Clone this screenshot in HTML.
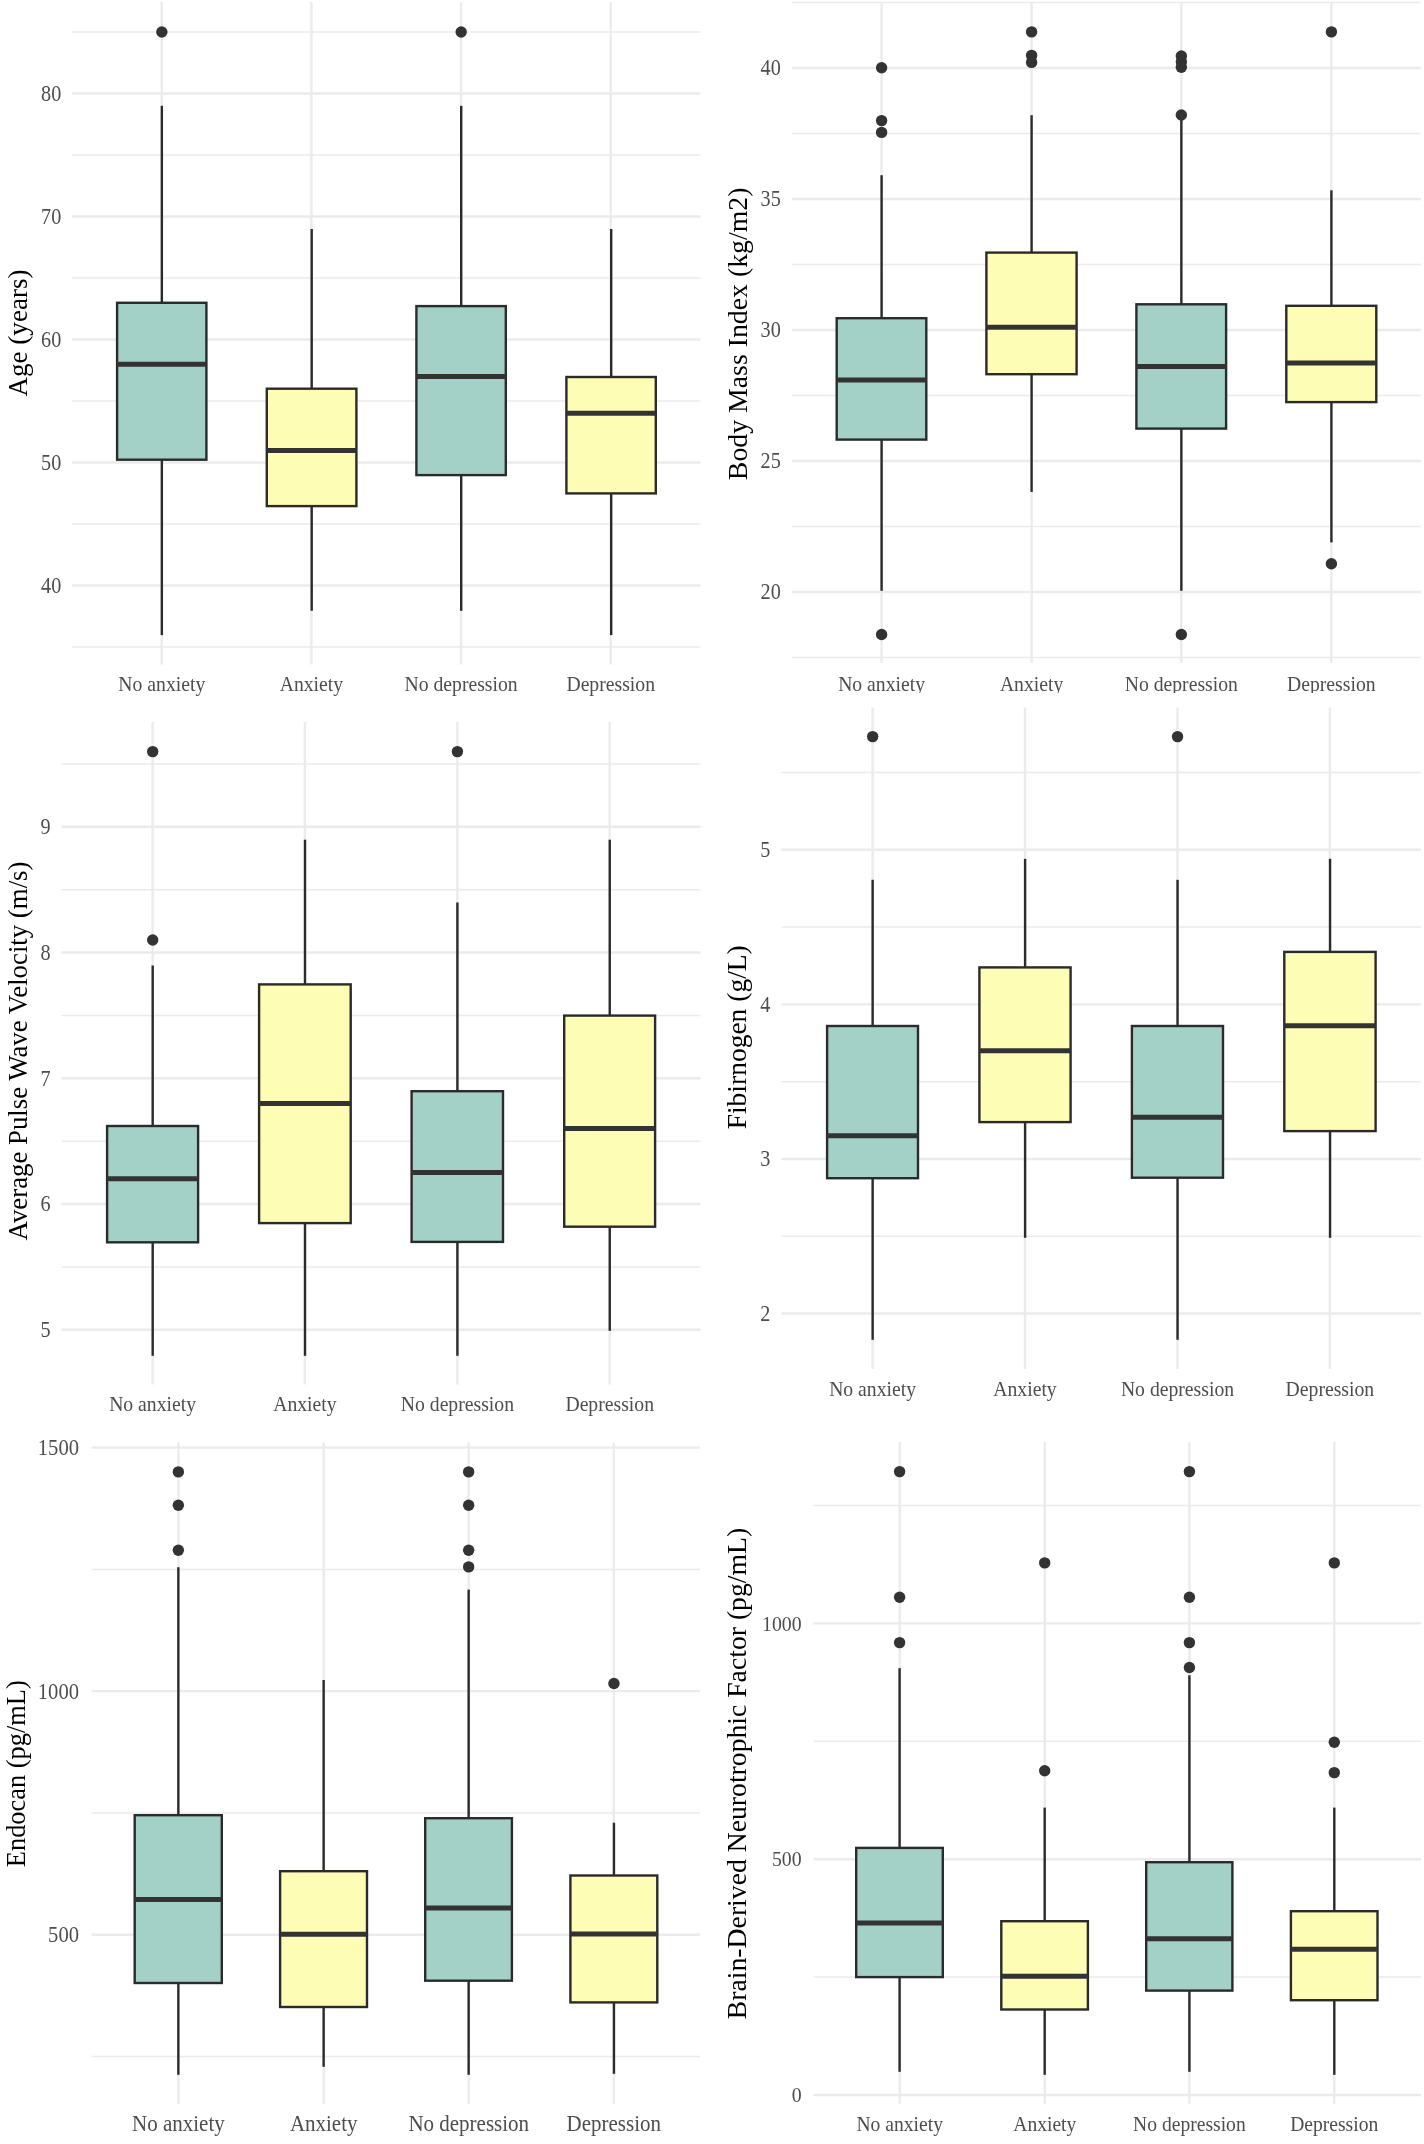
<!DOCTYPE html>
<html><head><meta charset="utf-8"><title>Box plots</title>
<style>
html,body{margin:0;padding:0;background:#fff;}
svg{display:block;font-family:"Liberation Serif", serif;will-change:transform;}
</style></head>
<body>
<svg width="1424" height="2144" viewBox="0 0 1424 2144">
<defs><clipPath id="cp2"><rect x="712" y="0" width="712" height="693"/></clipPath></defs>
<rect width="1424" height="2144" fill="#fff"/>
<g>
<line x1="72" y1="647" x2="700.5" y2="647" stroke="#EBEBEB" stroke-width="1.5"/>
<line x1="72" y1="524" x2="700.5" y2="524" stroke="#EBEBEB" stroke-width="1.5"/>
<line x1="72" y1="401" x2="700.5" y2="401" stroke="#EBEBEB" stroke-width="1.5"/>
<line x1="72" y1="278" x2="700.5" y2="278" stroke="#EBEBEB" stroke-width="1.5"/>
<line x1="72" y1="155" x2="700.5" y2="155" stroke="#EBEBEB" stroke-width="1.5"/>
<line x1="72" y1="32" x2="700.5" y2="32" stroke="#EBEBEB" stroke-width="1.5"/>
<line x1="72" y1="585.5" x2="700.5" y2="585.5" stroke="#EBEBEB" stroke-width="2.4"/>
<line x1="72" y1="462.5" x2="700.5" y2="462.5" stroke="#EBEBEB" stroke-width="2.4"/>
<line x1="72" y1="339.5" x2="700.5" y2="339.5" stroke="#EBEBEB" stroke-width="2.4"/>
<line x1="72" y1="216.5" x2="700.5" y2="216.5" stroke="#EBEBEB" stroke-width="2.4"/>
<line x1="72" y1="93.5" x2="700.5" y2="93.5" stroke="#EBEBEB" stroke-width="2.4"/>
<line x1="161.8" y1="2" x2="161.8" y2="664.4" stroke="#EBEBEB" stroke-width="2.4"/>
<line x1="311.4" y1="2" x2="311.4" y2="664.4" stroke="#EBEBEB" stroke-width="2.4"/>
<line x1="461.1" y1="2" x2="461.1" y2="664.4" stroke="#EBEBEB" stroke-width="2.4"/>
<line x1="610.7" y1="2" x2="610.7" y2="664.4" stroke="#EBEBEB" stroke-width="2.4"/>
<line x1="161.85" y1="105.8" x2="161.85" y2="302.8" stroke="#2B2B2B" stroke-width="2.4"/>
<line x1="161.85" y1="459.7" x2="161.85" y2="635.1" stroke="#2B2B2B" stroke-width="2.4"/>
<rect x="117.1" y="302.8" width="89.3" height="156.9" fill="#A4D1C7" stroke="#2B2B2B" stroke-width="2.4"/>
<line x1="117.1" y1="364.3" x2="206.4" y2="364.3" stroke="#333333" stroke-width="5.0"/>
<circle cx="161.85" cy="32" r="5.7" fill="#333333"/>
<line x1="311.7" y1="229" x2="311.7" y2="388.7" stroke="#2B2B2B" stroke-width="2.4"/>
<line x1="311.7" y1="506.1" x2="311.7" y2="610.8" stroke="#2B2B2B" stroke-width="2.4"/>
<rect x="266.8" y="388.7" width="89.6" height="117.4" fill="#FEFDB6" stroke="#2B2B2B" stroke-width="2.4"/>
<line x1="266.8" y1="450.4" x2="356.4" y2="450.4" stroke="#333333" stroke-width="5.0"/>
<line x1="461.2" y1="105.8" x2="461.2" y2="306.1" stroke="#2B2B2B" stroke-width="2.4"/>
<line x1="461.2" y1="475.1" x2="461.2" y2="610.8" stroke="#2B2B2B" stroke-width="2.4"/>
<rect x="416.4" y="306.1" width="89.4" height="169" fill="#A4D1C7" stroke="#2B2B2B" stroke-width="2.4"/>
<line x1="416.4" y1="376.5" x2="505.8" y2="376.5" stroke="#333333" stroke-width="5.0"/>
<circle cx="461.2" cy="32" r="5.7" fill="#333333"/>
<line x1="611.2" y1="229" x2="611.2" y2="377" stroke="#2B2B2B" stroke-width="2.4"/>
<line x1="611.2" y1="493.4" x2="611.2" y2="635.1" stroke="#2B2B2B" stroke-width="2.4"/>
<rect x="566.4" y="377" width="89.4" height="116.4" fill="#FEFDB6" stroke="#2B2B2B" stroke-width="2.4"/>
<line x1="566.4" y1="413.2" x2="655.8" y2="413.2" stroke="#333333" stroke-width="5.0"/>
<text transform="translate(61.3,592.81) scale(0.9091,1)" text-anchor="end" font-size="22.22" fill="#4D4D4D">40</text>
<text transform="translate(61.3,469.81) scale(0.9091,1)" text-anchor="end" font-size="22.22" fill="#4D4D4D">50</text>
<text transform="translate(61.3,346.81) scale(0.9091,1)" text-anchor="end" font-size="22.22" fill="#4D4D4D">60</text>
<text transform="translate(61.3,223.81) scale(0.9091,1)" text-anchor="end" font-size="22.22" fill="#4D4D4D">70</text>
<text transform="translate(61.3,100.81) scale(0.9091,1)" text-anchor="end" font-size="22.22" fill="#4D4D4D">80</text>
<text transform="translate(161.8,691) scale(0.9174,1)" text-anchor="middle" font-size="21.47" fill="#4D4D4D">No anxiety</text>
<text transform="translate(311.4,691) scale(0.9174,1)" text-anchor="middle" font-size="21.47" fill="#4D4D4D">Anxiety</text>
<text transform="translate(461.1,691) scale(0.9174,1)" text-anchor="middle" font-size="21.47" fill="#4D4D4D">No depression</text>
<text transform="translate(610.7,691) scale(0.9174,1)" text-anchor="middle" font-size="21.47" fill="#4D4D4D">Depression</text>
<text transform="translate(26.6,333) rotate(-90)" text-anchor="middle" font-size="27.1" fill="#000">Age (years)</text>
</g>
<g clip-path="url(#cp2)">
<line x1="791.9" y1="657.5" x2="1420.9" y2="657.5" stroke="#EBEBEB" stroke-width="1.5"/>
<line x1="791.9" y1="526.5" x2="1420.9" y2="526.5" stroke="#EBEBEB" stroke-width="1.5"/>
<line x1="791.9" y1="395.5" x2="1420.9" y2="395.5" stroke="#EBEBEB" stroke-width="1.5"/>
<line x1="791.9" y1="264.5" x2="1420.9" y2="264.5" stroke="#EBEBEB" stroke-width="1.5"/>
<line x1="791.9" y1="133.5" x2="1420.9" y2="133.5" stroke="#EBEBEB" stroke-width="1.5"/>
<line x1="791.9" y1="2.5" x2="1420.9" y2="2.5" stroke="#EBEBEB" stroke-width="1.5"/>
<line x1="791.9" y1="592" x2="1420.9" y2="592" stroke="#EBEBEB" stroke-width="2.4"/>
<line x1="791.9" y1="461" x2="1420.9" y2="461" stroke="#EBEBEB" stroke-width="2.4"/>
<line x1="791.9" y1="330" x2="1420.9" y2="330" stroke="#EBEBEB" stroke-width="2.4"/>
<line x1="791.9" y1="199" x2="1420.9" y2="199" stroke="#EBEBEB" stroke-width="2.4"/>
<line x1="791.9" y1="68" x2="1420.9" y2="68" stroke="#EBEBEB" stroke-width="2.4"/>
<line x1="881.6" y1="2.4" x2="881.6" y2="662.7" stroke="#EBEBEB" stroke-width="2.4"/>
<line x1="1031.6" y1="2.4" x2="1031.6" y2="662.7" stroke="#EBEBEB" stroke-width="2.4"/>
<line x1="1181.3" y1="2.4" x2="1181.3" y2="662.7" stroke="#EBEBEB" stroke-width="2.4"/>
<line x1="1331.3" y1="2.4" x2="1331.3" y2="662.7" stroke="#EBEBEB" stroke-width="2.4"/>
<line x1="881.6" y1="175.2" x2="881.6" y2="318.2" stroke="#2B2B2B" stroke-width="2.4"/>
<line x1="881.6" y1="439.6" x2="881.6" y2="590.8" stroke="#2B2B2B" stroke-width="2.4"/>
<rect x="836.7" y="318.2" width="89.6" height="121.4" fill="#A4D1C7" stroke="#2B2B2B" stroke-width="2.4"/>
<line x1="836.7" y1="380" x2="926.3" y2="380" stroke="#333333" stroke-width="5.0"/>
<circle cx="881.6" cy="67.8" r="5.7" fill="#333333"/>
<circle cx="881.6" cy="120.6" r="5.7" fill="#333333"/>
<circle cx="881.6" cy="132.4" r="5.7" fill="#333333"/>
<circle cx="881.6" cy="634.5" r="5.7" fill="#333333"/>
<line x1="1031.6" y1="115.2" x2="1031.6" y2="252.6" stroke="#2B2B2B" stroke-width="2.4"/>
<line x1="1031.6" y1="374.2" x2="1031.6" y2="491.9" stroke="#2B2B2B" stroke-width="2.4"/>
<rect x="986.4" y="252.6" width="90.2" height="121.6" fill="#FEFDB6" stroke="#2B2B2B" stroke-width="2.4"/>
<line x1="986.4" y1="327.2" x2="1076.6" y2="327.2" stroke="#333333" stroke-width="5.0"/>
<circle cx="1031.6" cy="31.9" r="5.7" fill="#333333"/>
<circle cx="1031.6" cy="55.4" r="5.7" fill="#333333"/>
<circle cx="1031.6" cy="62.4" r="5.7" fill="#333333"/>
<line x1="1181.35" y1="119.5" x2="1181.35" y2="304.3" stroke="#2B2B2B" stroke-width="2.4"/>
<line x1="1181.35" y1="428.6" x2="1181.35" y2="590.8" stroke="#2B2B2B" stroke-width="2.4"/>
<rect x="1136.4" y="304.3" width="89.7" height="124.3" fill="#A4D1C7" stroke="#2B2B2B" stroke-width="2.4"/>
<line x1="1136.4" y1="366.6" x2="1226.1" y2="366.6" stroke="#333333" stroke-width="5.0"/>
<circle cx="1181.35" cy="56" r="5.7" fill="#333333"/>
<circle cx="1181.35" cy="61.8" r="5.7" fill="#333333"/>
<circle cx="1181.35" cy="67.2" r="5.7" fill="#333333"/>
<circle cx="1181.35" cy="115" r="5.7" fill="#333333"/>
<circle cx="1181.35" cy="634.5" r="5.7" fill="#333333"/>
<line x1="1331.4" y1="190.3" x2="1331.4" y2="305.8" stroke="#2B2B2B" stroke-width="2.4"/>
<line x1="1331.4" y1="402.1" x2="1331.4" y2="542.4" stroke="#2B2B2B" stroke-width="2.4"/>
<rect x="1286.3" y="305.8" width="90" height="96.3" fill="#FEFDB6" stroke="#2B2B2B" stroke-width="2.4"/>
<line x1="1286.3" y1="363" x2="1376.3" y2="363" stroke="#333333" stroke-width="5.0"/>
<circle cx="1331.4" cy="31.9" r="5.7" fill="#333333"/>
<circle cx="1331.4" cy="563.8" r="5.7" fill="#333333"/>
<text transform="translate(780.8,599.31) scale(0.9091,1)" text-anchor="end" font-size="22.22" fill="#4D4D4D">20</text>
<text transform="translate(780.8,468.31) scale(0.9091,1)" text-anchor="end" font-size="22.22" fill="#4D4D4D">25</text>
<text transform="translate(780.8,337.31) scale(0.9091,1)" text-anchor="end" font-size="22.22" fill="#4D4D4D">30</text>
<text transform="translate(780.8,206.31) scale(0.9091,1)" text-anchor="end" font-size="22.22" fill="#4D4D4D">35</text>
<text transform="translate(780.8,75.31) scale(0.9091,1)" text-anchor="end" font-size="22.22" fill="#4D4D4D">40</text>
<text transform="translate(881.6,691) scale(0.9174,1)" text-anchor="middle" font-size="21.47" fill="#4D4D4D">No anxiety</text>
<text transform="translate(1031.6,691) scale(0.9174,1)" text-anchor="middle" font-size="21.47" fill="#4D4D4D">Anxiety</text>
<text transform="translate(1181.3,691) scale(0.9174,1)" text-anchor="middle" font-size="21.47" fill="#4D4D4D">No depression</text>
<text transform="translate(1331.3,691) scale(0.9174,1)" text-anchor="middle" font-size="21.47" fill="#4D4D4D">Depression</text>
<text transform="translate(746.6,333.85) rotate(-90)" text-anchor="middle" font-size="27.8" fill="#000">Body Mass Index (kg/m2)</text>
</g>
<g>
<line x1="61.5" y1="1266.92" x2="700.5" y2="1266.92" stroke="#EBEBEB" stroke-width="1.5"/>
<line x1="61.5" y1="1141.17" x2="700.5" y2="1141.17" stroke="#EBEBEB" stroke-width="1.5"/>
<line x1="61.5" y1="1015.42" x2="700.5" y2="1015.42" stroke="#EBEBEB" stroke-width="1.5"/>
<line x1="61.5" y1="889.67" x2="700.5" y2="889.67" stroke="#EBEBEB" stroke-width="1.5"/>
<line x1="61.5" y1="763.92" x2="700.5" y2="763.92" stroke="#EBEBEB" stroke-width="1.5"/>
<line x1="61.5" y1="1329.8" x2="700.5" y2="1329.8" stroke="#EBEBEB" stroke-width="2.4"/>
<line x1="61.5" y1="1204.05" x2="700.5" y2="1204.05" stroke="#EBEBEB" stroke-width="2.4"/>
<line x1="61.5" y1="1078.3" x2="700.5" y2="1078.3" stroke="#EBEBEB" stroke-width="2.4"/>
<line x1="61.5" y1="952.55" x2="700.5" y2="952.55" stroke="#EBEBEB" stroke-width="2.4"/>
<line x1="61.5" y1="826.8" x2="700.5" y2="826.8" stroke="#EBEBEB" stroke-width="2.4"/>
<line x1="152.6" y1="722" x2="152.6" y2="1384.5" stroke="#EBEBEB" stroke-width="2.4"/>
<line x1="304.9" y1="722" x2="304.9" y2="1384.5" stroke="#EBEBEB" stroke-width="2.4"/>
<line x1="457.4" y1="722" x2="457.4" y2="1384.5" stroke="#EBEBEB" stroke-width="2.4"/>
<line x1="609.7" y1="722" x2="609.7" y2="1384.5" stroke="#EBEBEB" stroke-width="2.4"/>
<line x1="152.7" y1="965.5" x2="152.7" y2="1126" stroke="#2B2B2B" stroke-width="2.4"/>
<line x1="152.7" y1="1242.3" x2="152.7" y2="1355.8" stroke="#2B2B2B" stroke-width="2.4"/>
<rect x="107.1" y="1126" width="91" height="116.3" fill="#A4D1C7" stroke="#2B2B2B" stroke-width="2.4"/>
<line x1="107.1" y1="1178.7" x2="198.1" y2="1178.7" stroke="#333333" stroke-width="5.0"/>
<circle cx="152.7" cy="751.6" r="5.7" fill="#333333"/>
<circle cx="152.7" cy="940" r="5.7" fill="#333333"/>
<line x1="305" y1="839.7" x2="305" y2="984.4" stroke="#2B2B2B" stroke-width="2.4"/>
<line x1="305" y1="1223.1" x2="305" y2="1355.8" stroke="#2B2B2B" stroke-width="2.4"/>
<rect x="259.1" y="984.4" width="91.6" height="238.7" fill="#FEFDB6" stroke="#2B2B2B" stroke-width="2.4"/>
<line x1="259.1" y1="1103.5" x2="350.7" y2="1103.5" stroke="#333333" stroke-width="5.0"/>
<line x1="457.4" y1="902.5" x2="457.4" y2="1091.2" stroke="#2B2B2B" stroke-width="2.4"/>
<line x1="457.4" y1="1241.9" x2="457.4" y2="1355.8" stroke="#2B2B2B" stroke-width="2.4"/>
<rect x="411.6" y="1091.2" width="91.4" height="150.7" fill="#A4D1C7" stroke="#2B2B2B" stroke-width="2.4"/>
<line x1="411.6" y1="1172.6" x2="503" y2="1172.6" stroke="#333333" stroke-width="5.0"/>
<circle cx="457.4" cy="751.6" r="5.7" fill="#333333"/>
<line x1="609.75" y1="839.7" x2="609.75" y2="1015.6" stroke="#2B2B2B" stroke-width="2.4"/>
<line x1="609.75" y1="1226.7" x2="609.75" y2="1330.8" stroke="#2B2B2B" stroke-width="2.4"/>
<rect x="564.2" y="1015.6" width="90.9" height="211.1" fill="#FEFDB6" stroke="#2B2B2B" stroke-width="2.4"/>
<line x1="564.2" y1="1128.5" x2="655.1" y2="1128.5" stroke="#333333" stroke-width="5.0"/>
<text transform="translate(50.7,1337.11) scale(0.9091,1)" text-anchor="end" font-size="22.22" fill="#4D4D4D">5</text>
<text transform="translate(50.7,1211.36) scale(0.9091,1)" text-anchor="end" font-size="22.22" fill="#4D4D4D">6</text>
<text transform="translate(50.7,1085.61) scale(0.9091,1)" text-anchor="end" font-size="22.22" fill="#4D4D4D">7</text>
<text transform="translate(50.7,959.86) scale(0.9091,1)" text-anchor="end" font-size="22.22" fill="#4D4D4D">8</text>
<text transform="translate(50.7,834.11) scale(0.9091,1)" text-anchor="end" font-size="22.22" fill="#4D4D4D">9</text>
<text transform="translate(152.6,1410.8) scale(0.9174,1)" text-anchor="middle" font-size="21.47" fill="#4D4D4D">No anxiety</text>
<text transform="translate(304.9,1410.8) scale(0.9174,1)" text-anchor="middle" font-size="21.47" fill="#4D4D4D">Anxiety</text>
<text transform="translate(457.4,1410.8) scale(0.9174,1)" text-anchor="middle" font-size="21.47" fill="#4D4D4D">No depression</text>
<text transform="translate(609.7,1410.8) scale(0.9174,1)" text-anchor="middle" font-size="21.47" fill="#4D4D4D">Depression</text>
<text transform="translate(26.8,1051) rotate(-90)" text-anchor="middle" font-size="26.8" fill="#000">Average Pulse Wave Velocity (m/s)</text>
</g>
<g>
<line x1="781.4" y1="1236.22" x2="1420.9" y2="1236.22" stroke="#EBEBEB" stroke-width="1.5"/>
<line x1="781.4" y1="1081.65" x2="1420.9" y2="1081.65" stroke="#EBEBEB" stroke-width="1.5"/>
<line x1="781.4" y1="927.08" x2="1420.9" y2="927.08" stroke="#EBEBEB" stroke-width="1.5"/>
<line x1="781.4" y1="772.51" x2="1420.9" y2="772.51" stroke="#EBEBEB" stroke-width="1.5"/>
<line x1="781.4" y1="1313.51" x2="1420.9" y2="1313.51" stroke="#EBEBEB" stroke-width="2.4"/>
<line x1="781.4" y1="1158.94" x2="1420.9" y2="1158.94" stroke="#EBEBEB" stroke-width="2.4"/>
<line x1="781.4" y1="1004.37" x2="1420.9" y2="1004.37" stroke="#EBEBEB" stroke-width="2.4"/>
<line x1="781.4" y1="849.8" x2="1420.9" y2="849.8" stroke="#EBEBEB" stroke-width="2.4"/>
<line x1="872.6" y1="707.4" x2="872.6" y2="1369" stroke="#EBEBEB" stroke-width="2.4"/>
<line x1="1025" y1="707.4" x2="1025" y2="1369" stroke="#EBEBEB" stroke-width="2.4"/>
<line x1="1177.5" y1="707.4" x2="1177.5" y2="1369" stroke="#EBEBEB" stroke-width="2.4"/>
<line x1="1329.9" y1="707.4" x2="1329.9" y2="1369" stroke="#EBEBEB" stroke-width="2.4"/>
<line x1="872.65" y1="879.8" x2="872.65" y2="1026" stroke="#2B2B2B" stroke-width="2.4"/>
<line x1="872.65" y1="1178.2" x2="872.65" y2="1339.8" stroke="#2B2B2B" stroke-width="2.4"/>
<rect x="827.1" y="1026" width="90.9" height="152.2" fill="#A4D1C7" stroke="#2B2B2B" stroke-width="2.4"/>
<line x1="827.1" y1="1135.7" x2="918" y2="1135.7" stroke="#333333" stroke-width="5.0"/>
<circle cx="872.65" cy="736.6" r="5.7" fill="#333333"/>
<line x1="1025.1" y1="858.8" x2="1025.1" y2="967.4" stroke="#2B2B2B" stroke-width="2.4"/>
<line x1="1025.1" y1="1122.1" x2="1025.1" y2="1237.8" stroke="#2B2B2B" stroke-width="2.4"/>
<rect x="979.4" y="967.4" width="91.2" height="154.7" fill="#FEFDB6" stroke="#2B2B2B" stroke-width="2.4"/>
<line x1="979.4" y1="1050.7" x2="1070.6" y2="1050.7" stroke="#333333" stroke-width="5.0"/>
<line x1="1177.55" y1="879.8" x2="1177.55" y2="1026" stroke="#2B2B2B" stroke-width="2.4"/>
<line x1="1177.55" y1="1177.7" x2="1177.55" y2="1339.8" stroke="#2B2B2B" stroke-width="2.4"/>
<rect x="1131.9" y="1026" width="91.1" height="151.7" fill="#A4D1C7" stroke="#2B2B2B" stroke-width="2.4"/>
<line x1="1131.9" y1="1117.2" x2="1223" y2="1117.2" stroke="#333333" stroke-width="5.0"/>
<circle cx="1177.55" cy="736.6" r="5.7" fill="#333333"/>
<line x1="1330.05" y1="858.8" x2="1330.05" y2="951.9" stroke="#2B2B2B" stroke-width="2.4"/>
<line x1="1330.05" y1="1131.1" x2="1330.05" y2="1237.8" stroke="#2B2B2B" stroke-width="2.4"/>
<rect x="1284.3" y="951.9" width="91.3" height="179.2" fill="#FEFDB6" stroke="#2B2B2B" stroke-width="2.4"/>
<line x1="1284.3" y1="1025.8" x2="1375.6" y2="1025.8" stroke="#333333" stroke-width="5.0"/>
<text transform="translate(770.3,1320.82) scale(0.9091,1)" text-anchor="end" font-size="22.22" fill="#4D4D4D">2</text>
<text transform="translate(770.3,1166.25) scale(0.9091,1)" text-anchor="end" font-size="22.22" fill="#4D4D4D">3</text>
<text transform="translate(770.3,1011.68) scale(0.9091,1)" text-anchor="end" font-size="22.22" fill="#4D4D4D">4</text>
<text transform="translate(770.3,857.11) scale(0.9091,1)" text-anchor="end" font-size="22.22" fill="#4D4D4D">5</text>
<text transform="translate(872.6,1395.8) scale(0.9174,1)" text-anchor="middle" font-size="21.47" fill="#4D4D4D">No anxiety</text>
<text transform="translate(1025,1395.8) scale(0.9174,1)" text-anchor="middle" font-size="21.47" fill="#4D4D4D">Anxiety</text>
<text transform="translate(1177.5,1395.8) scale(0.9174,1)" text-anchor="middle" font-size="21.47" fill="#4D4D4D">No depression</text>
<text transform="translate(1329.9,1395.8) scale(0.9174,1)" text-anchor="middle" font-size="21.47" fill="#4D4D4D">Depression</text>
<text transform="translate(746.2,1037.3) rotate(-90)" text-anchor="middle" font-size="27.5" fill="#000">Fibirnogen (g/L)</text>
</g>
<g>
<line x1="91.6" y1="2056.5" x2="700" y2="2056.5" stroke="#EBEBEB" stroke-width="1.5"/>
<line x1="91.6" y1="1812.94" x2="700" y2="1812.94" stroke="#EBEBEB" stroke-width="1.5"/>
<line x1="91.6" y1="1569.38" x2="700" y2="1569.38" stroke="#EBEBEB" stroke-width="1.5"/>
<line x1="91.6" y1="1934.72" x2="700" y2="1934.72" stroke="#EBEBEB" stroke-width="2.4"/>
<line x1="91.6" y1="1691.16" x2="700" y2="1691.16" stroke="#EBEBEB" stroke-width="2.4"/>
<line x1="91.6" y1="1447.6" x2="700" y2="1447.6" stroke="#EBEBEB" stroke-width="2.4"/>
<line x1="178.4" y1="1442.5" x2="178.4" y2="2104" stroke="#EBEBEB" stroke-width="2.4"/>
<line x1="323.7" y1="1442.5" x2="323.7" y2="2104" stroke="#EBEBEB" stroke-width="2.4"/>
<line x1="468.7" y1="1442.5" x2="468.7" y2="2104" stroke="#EBEBEB" stroke-width="2.4"/>
<line x1="613.8" y1="1442.5" x2="613.8" y2="2104" stroke="#EBEBEB" stroke-width="2.4"/>
<line x1="178.35" y1="1567.2" x2="178.35" y2="1815.2" stroke="#2B2B2B" stroke-width="2.4"/>
<line x1="178.35" y1="1983" x2="178.35" y2="2074.8" stroke="#2B2B2B" stroke-width="2.4"/>
<rect x="134.7" y="1815.2" width="87.1" height="167.8" fill="#A4D1C7" stroke="#2B2B2B" stroke-width="2.4"/>
<line x1="134.7" y1="1899.5" x2="221.8" y2="1899.5" stroke="#333333" stroke-width="5.0"/>
<circle cx="178.35" cy="1471.9" r="5.7" fill="#333333"/>
<circle cx="178.35" cy="1505.2" r="5.7" fill="#333333"/>
<circle cx="178.35" cy="1550.2" r="5.7" fill="#333333"/>
<line x1="323.65" y1="1680" x2="323.65" y2="1871.2" stroke="#2B2B2B" stroke-width="2.4"/>
<line x1="323.65" y1="2007" x2="323.65" y2="2066.8" stroke="#2B2B2B" stroke-width="2.4"/>
<rect x="280.1" y="1871.2" width="86.9" height="135.8" fill="#FEFDB6" stroke="#2B2B2B" stroke-width="2.4"/>
<line x1="280.1" y1="1934.2" x2="367" y2="1934.2" stroke="#333333" stroke-width="5.0"/>
<line x1="468.65" y1="1589.6" x2="468.65" y2="1818.2" stroke="#2B2B2B" stroke-width="2.4"/>
<line x1="468.65" y1="1980.7" x2="468.65" y2="2074.8" stroke="#2B2B2B" stroke-width="2.4"/>
<rect x="425.2" y="1818.2" width="86.7" height="162.5" fill="#A4D1C7" stroke="#2B2B2B" stroke-width="2.4"/>
<line x1="425.2" y1="1908" x2="511.9" y2="1908" stroke="#333333" stroke-width="5.0"/>
<circle cx="468.65" cy="1471.9" r="5.7" fill="#333333"/>
<circle cx="468.65" cy="1505.2" r="5.7" fill="#333333"/>
<circle cx="468.65" cy="1550.2" r="5.7" fill="#333333"/>
<circle cx="468.65" cy="1566.9" r="5.7" fill="#333333"/>
<line x1="613.95" y1="1822.7" x2="613.95" y2="1875.5" stroke="#2B2B2B" stroke-width="2.4"/>
<line x1="613.95" y1="2002.4" x2="613.95" y2="2073.8" stroke="#2B2B2B" stroke-width="2.4"/>
<rect x="570.4" y="1875.5" width="86.9" height="126.9" fill="#FEFDB6" stroke="#2B2B2B" stroke-width="2.4"/>
<line x1="570.4" y1="1934" x2="657.3" y2="1934" stroke="#333333" stroke-width="5.0"/>
<circle cx="613.95" cy="1683.5" r="5.7" fill="#333333"/>
<text transform="translate(79,1942.18) scale(0.9091,1)" text-anchor="end" font-size="22.66" fill="#4D4D4D">500</text>
<text transform="translate(79,1698.62) scale(0.9091,1)" text-anchor="end" font-size="22.66" fill="#4D4D4D">1000</text>
<text transform="translate(79,1455.06) scale(0.9091,1)" text-anchor="end" font-size="22.66" fill="#4D4D4D">1500</text>
<text transform="translate(178.4,2131) scale(0.9524,1)" text-anchor="middle" font-size="22.05" fill="#4D4D4D">No anxiety</text>
<text transform="translate(323.7,2131) scale(0.9524,1)" text-anchor="middle" font-size="22.05" fill="#4D4D4D">Anxiety</text>
<text transform="translate(468.7,2131) scale(0.9524,1)" text-anchor="middle" font-size="22.05" fill="#4D4D4D">No depression</text>
<text transform="translate(613.8,2131) scale(0.9524,1)" text-anchor="middle" font-size="22.05" fill="#4D4D4D">Depression</text>
<text transform="translate(25.3,1773.7) rotate(-90)" text-anchor="middle" font-size="26.4" fill="#000">Endocan (pg/mL)</text>
</g>
<g>
<line x1="813.5" y1="1977.1" x2="1421" y2="1977.1" stroke="#EBEBEB" stroke-width="1.5"/>
<line x1="813.5" y1="1741.3" x2="1421" y2="1741.3" stroke="#EBEBEB" stroke-width="1.5"/>
<line x1="813.5" y1="1505.5" x2="1421" y2="1505.5" stroke="#EBEBEB" stroke-width="1.5"/>
<line x1="813.5" y1="2095" x2="1421" y2="2095" stroke="#EBEBEB" stroke-width="2.4"/>
<line x1="813.5" y1="1859.2" x2="1421" y2="1859.2" stroke="#EBEBEB" stroke-width="2.4"/>
<line x1="813.5" y1="1623.4" x2="1421" y2="1623.4" stroke="#EBEBEB" stroke-width="2.4"/>
<line x1="899.7" y1="1442" x2="899.7" y2="2104" stroke="#EBEBEB" stroke-width="2.4"/>
<line x1="1044.8" y1="1442" x2="1044.8" y2="2104" stroke="#EBEBEB" stroke-width="2.4"/>
<line x1="1189.4" y1="1442" x2="1189.4" y2="2104" stroke="#EBEBEB" stroke-width="2.4"/>
<line x1="1334.2" y1="1442" x2="1334.2" y2="2104" stroke="#EBEBEB" stroke-width="2.4"/>
<line x1="899.6" y1="1668.2" x2="899.6" y2="1847.9" stroke="#2B2B2B" stroke-width="2.4"/>
<line x1="899.6" y1="1977.1" x2="899.6" y2="2071.8" stroke="#2B2B2B" stroke-width="2.4"/>
<rect x="856.2" y="1847.9" width="86.6" height="129.2" fill="#A4D1C7" stroke="#2B2B2B" stroke-width="2.4"/>
<line x1="856.2" y1="1922.9" x2="942.8" y2="1922.9" stroke="#333333" stroke-width="5.0"/>
<circle cx="899.6" cy="1471.6" r="5.7" fill="#333333"/>
<circle cx="899.6" cy="1597.3" r="5.7" fill="#333333"/>
<circle cx="899.6" cy="1642.6" r="5.7" fill="#333333"/>
<line x1="1044.7" y1="1807.6" x2="1044.7" y2="1921.2" stroke="#2B2B2B" stroke-width="2.4"/>
<line x1="1044.7" y1="2009.5" x2="1044.7" y2="2074.8" stroke="#2B2B2B" stroke-width="2.4"/>
<rect x="1001.3" y="1921.2" width="86.6" height="88.3" fill="#FEFDB6" stroke="#2B2B2B" stroke-width="2.4"/>
<line x1="1001.3" y1="1976.2" x2="1087.9" y2="1976.2" stroke="#333333" stroke-width="5.0"/>
<circle cx="1044.7" cy="1562.9" r="5.7" fill="#333333"/>
<circle cx="1044.7" cy="1770.7" r="5.7" fill="#333333"/>
<line x1="1189.4" y1="1675.3" x2="1189.4" y2="1862.2" stroke="#2B2B2B" stroke-width="2.4"/>
<line x1="1189.4" y1="1990.6" x2="1189.4" y2="2071.8" stroke="#2B2B2B" stroke-width="2.4"/>
<rect x="1146.2" y="1862.2" width="86.2" height="128.4" fill="#A4D1C7" stroke="#2B2B2B" stroke-width="2.4"/>
<line x1="1146.2" y1="1938.8" x2="1232.4" y2="1938.8" stroke="#333333" stroke-width="5.0"/>
<circle cx="1189.4" cy="1471.6" r="5.7" fill="#333333"/>
<circle cx="1189.4" cy="1597.3" r="5.7" fill="#333333"/>
<circle cx="1189.4" cy="1642.6" r="5.7" fill="#333333"/>
<circle cx="1189.4" cy="1667.5" r="5.7" fill="#333333"/>
<line x1="1334.3" y1="1807.6" x2="1334.3" y2="1911.2" stroke="#2B2B2B" stroke-width="2.4"/>
<line x1="1334.3" y1="2000.2" x2="1334.3" y2="2074.8" stroke="#2B2B2B" stroke-width="2.4"/>
<rect x="1290.9" y="1911.2" width="86.6" height="89" fill="#FEFDB6" stroke="#2B2B2B" stroke-width="2.4"/>
<line x1="1290.9" y1="1949.2" x2="1377.5" y2="1949.2" stroke="#333333" stroke-width="5.0"/>
<circle cx="1334.3" cy="1562.9" r="5.7" fill="#333333"/>
<circle cx="1334.3" cy="1742.2" r="5.7" fill="#333333"/>
<circle cx="1334.3" cy="1772.6" r="5.7" fill="#333333"/>
<text transform="translate(801.6,2102.16) scale(0.9091,1)" text-anchor="end" font-size="21.78" fill="#4D4D4D">0</text>
<text transform="translate(801.6,1866.36) scale(0.9091,1)" text-anchor="end" font-size="21.78" fill="#4D4D4D">500</text>
<text transform="translate(801.6,1630.56) scale(0.9091,1)" text-anchor="end" font-size="21.78" fill="#4D4D4D">1000</text>
<text transform="translate(899.7,2130.8) scale(0.9174,1)" text-anchor="middle" font-size="21.36" fill="#4D4D4D">No anxiety</text>
<text transform="translate(1044.8,2130.8) scale(0.9174,1)" text-anchor="middle" font-size="21.36" fill="#4D4D4D">Anxiety</text>
<text transform="translate(1189.4,2130.8) scale(0.9174,1)" text-anchor="middle" font-size="21.36" fill="#4D4D4D">No depression</text>
<text transform="translate(1334.2,2130.8) scale(0.9174,1)" text-anchor="middle" font-size="21.36" fill="#4D4D4D">Depression</text>
<text transform="translate(746.4,1773.5) rotate(-90)" text-anchor="middle" font-size="27.7" fill="#000">Brain-Derived Neurotrophic Factor (pg/mL)</text>
</g>
</svg>
</body></html>
